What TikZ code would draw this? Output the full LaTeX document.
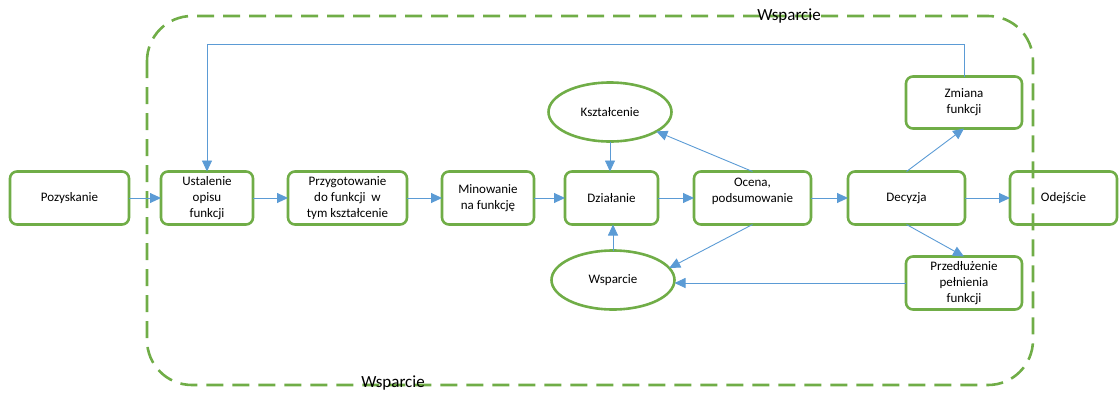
\documentclass[tikz,border=0pt]{standalone}
\usepackage{fontspec}
\setmainfont{Carlito}
\usepackage{xcolor}
\usetikzlibrary{arrows.meta,positioning,shapes.geometric}
\definecolor{ramka}{HTML}{70AD47}
\definecolor{strzalka}{HTML}{5B9BD5}

\begin{document}
\begin{tikzpicture}[
    x=1pt, y=1pt,
    node distance=35pt,
    block/.style={rectangle, draw=ramka, line width=2.6pt, rounded corners=7pt, minimum height=53pt, inner ysep=1pt, align=center, outer sep=0pt, font=\fontsize{13}{16}\selectfont},
    oval/.style={ellipse, draw=ramka, line width=2.6pt, minimum width=123pt, minimum height=59pt, outer sep=0pt, font=\fontsize{13}{16}\selectfont},
    arrow/.style={-{Triangle[length=11pt,width=10pt]}, draw=strzalka, line width=0.9pt},
    frame/.style={draw=ramka, line width=2.6pt, dash pattern=on 17pt off 9pt, rounded corners=45pt},
    tag/.style={inner sep=0pt, font=\fontsize{17}{18}\selectfont}
]
    \useasboundingbox (0,0) rectangle (1120,-394);

    % Wsparcie frame
    \draw[frame] (147,-16) rectangle (1033,-385);
    \node[tag] (wspGora) at (789,-16) {Wsparcie};
    \node[tag] (wspDol) at (393,-383) {Wsparcie};

    % Main path
    \node[block, minimum width=119pt] (poz) at (69.5,-198) {Pozyskanie};
    \node[block, minimum width=92pt, right=32pt of poz] (ust) {Ustalenie\\opisu\\funkcji};
    \node[block, minimum width=119pt, right=of ust] (przyg) {Przygotowanie\\do funkcji \ w\\tym kształcenie};
    \node[block, minimum width=92pt, right=of przyg] (min) {Minowanie\\na funkcję};
    \node[block, minimum width=93pt, right=31pt of min] (dzial) {Działanie};
    \node[block, minimum width=117pt, right=36pt of dzial] (ocena) {Ocena,\\podsumowanie\\\mbox{}};
    \node[block, minimum width=117pt, right=37pt of ocena] (decyzja) {Decyzja};
    \node[block, minimum width=107pt, right=45pt of decyzja] (odejscie) {Odejście};

    % Training and support
    \node[oval, above=30pt of dzial, xshift=-1.5pt] (kszt) {Kształcenie};
    \node[oval, below=26pt of dzial, xshift=1.5pt] (wsp) {Wsparcie};

    % Outcomes of the decision
    \node[block, minimum width=116pt, minimum height=52pt, above=43pt of decyzja, xshift=57.5pt] (zmiana) {Zmiana\\funkcji};
    \node[block, minimum width=116pt, below=32pt of decyzja, xshift=57.5pt] (przedl) {Przedłużenie\\pełnienia\\funkcji};

    % Arrows
    \draw[arrow] (poz) -- (ust);
    \draw[arrow] (ust) -- (przyg);
    \draw[arrow] (przyg) -- (min);
    \draw[arrow] (min) -- (dzial);
    \draw[arrow] (dzial) -- (ocena);
    \draw[arrow] (ocena) -- (decyzja);
    \draw[arrow] (decyzja) -- (odejscie);

    \draw[arrow] (kszt) -- (kszt |- dzial.north);
    \draw[arrow] (wsp) -- (wsp |- dzial.south);
    \draw[arrow] (ocena.north) -- (kszt);
    \draw[arrow] (ocena.south) -- (wsp.12);
    \draw[arrow] (przedl) -- (przedl -| wsp.east);

    \draw[arrow] (decyzja.north) -- (zmiana.south);
    \draw[arrow] (decyzja.south) -- (przedl.north);
    \draw[arrow] (zmiana.north) -- ++(0,32) -| (ust.north);

\end{tikzpicture}
\end{document}
